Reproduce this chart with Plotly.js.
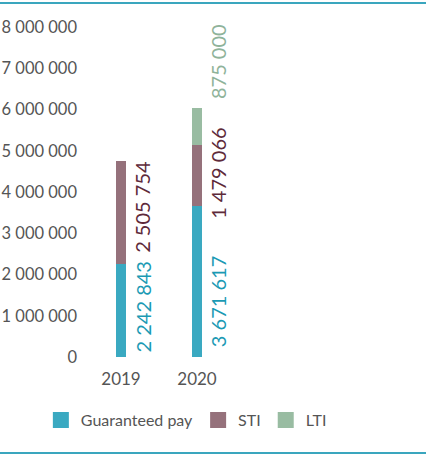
<!DOCTYPE html>
<html><head><meta charset="utf-8">
<script src="https://cdn.plot.ly/plotly-3.0.1.min.js"></script>
<style>html,body{margin:0;padding:0;background:#fff;}#chart{width:426px;height:459px;}</style>
</head><body><div id="chart"></div>
<script>
const years = ['2019', '2020'];
const guaranteedPay = [2242843, 3671617];
const sti = [2505754, 1479066];
const lti = [null, 875000];
const seriesNames = ['Guaranteed pay', 'STI', 'LTI'];
const tickValues = [0, 1000000, 2000000, 3000000, 4000000, 5000000, 6000000, 7000000, 8000000];
const tickLabels = ['0', '1 000 000', '2 000 000', '3 000 000', '4 000 000', '5 000 000', '6 000 000', '7 000 000', '8 000 000'];
// label centre positions (data units) as placed in the original
const labelPosGP = [1200000, 1330000];
const labelPosSTI = [3640000, 4440000];
const labelPosLTI = [null, 7150000];

const colors = ['#3aa9c1', '#95717b', '#99bca2'];
const textColors = ['#1b9ab4', '#5e2a3a', '#8fb39a'];
const font = 'Lato, sans-serif';

function fmt(v) { return String(v).replace(/\B(?=(\d{3})+(?!\d))/g, ' '); }

const series = [guaranteedPay, sti, lti];
const traces = series.map((vals, i) => ({
  type: 'bar', x: years, y: vals, name: seriesNames[i],
  marker: {color: colors[i], line: {width: 0}}, width: 0.14,
  hoverinfo: 'none', showlegend: false
}));
// legend-only entries with larger square swatches
seriesNames.forEach((n, i) => traces.push({
  type: 'scatter', mode: 'markers', x: [null], y: [null], name: n,
  marker: {symbol: 'square', size: 16, color: colors[i]}, hoverinfo: 'none', showlegend: true
}));

const positions = [labelPosGP, labelPosSTI, labelPosLTI];
const annotations = [];
series.forEach((vals, i) => {
  vals.forEach((v, j) => {
    if (v == null) return;
    annotations.push({
      x: j, y: positions[i][j], xref: 'x', yref: 'y',
      text: fmt(v), textangle: -90, showarrow: false,
      xshift: 21, xanchor: 'center', yanchor: 'middle',
      font: {family: font, size: 20, color: textColors[i]}
    });
  });
});

const layout = {
  width: 426, height: 459,
  margin: {l: 83, r: 39, t: 27, b: 102},
  paper_bgcolor: '#fff', plot_bgcolor: '#fff',
  barmode: 'stack', showlegend: true,
  font: {family: font, color: '#555', size: 16},
  xaxis: {type: 'category', range: [-0.5, 3.5], showgrid: false, zeroline: false, showline: false,
          ticks: '', tickfont: {family: font, size: 17, color: '#555'}, ticklabelstandoff: 10},
  yaxis: {range: [0, 8000000], tickvals: tickValues, ticktext: tickLabels, showgrid: false,
          zeroline: false, showline: false, ticks: '', ticklabelstandoff: 5,
          tickfont: {family: font, size: 16.5, color: '#555'}},
  legend: {orientation: 'h', x: 0.34, xanchor: 'center', xref: 'paper', y: -0.14, yanchor: 'top',
           font: {family: font, size: 16, color: '#555'}, traceorder: 'normal', itemwidth: 30},
  annotations: annotations,
  shapes: [
    {type: 'line', xref: 'paper', yref: 'paper', x0: -83/304, x1: 1 + 39/304, y0: 1 + 24/330, y1: 1 + 24/330,
     line: {color: '#3aa6be', width: 2}},
    {type: 'line', xref: 'paper', yref: 'paper', x0: -83/304, x1: 1 + 39/304, y0: -96/330, y1: -96/330,
     line: {color: '#3aa6be', width: 2}}
  ]
};
Plotly.newPlot('chart', traces, layout, {displayModeBar: false, staticPlot: true});
</script></body></html>
